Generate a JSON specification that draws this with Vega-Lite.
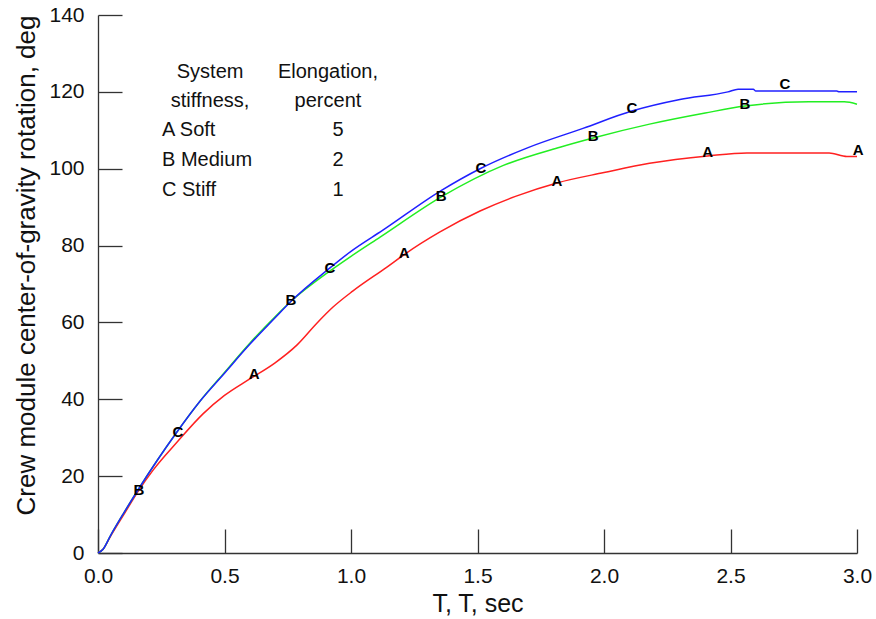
{
  "$schema": "https://vega.github.io/schema/vega-lite/v6.json",
  "width": 759,
  "height": 538,
  "autosize": {"type": "none"},
  "padding": {"left": 98, "top": 15, "right": 19, "bottom": 66},
  "background": "white",
  "config": {
    "font": "Liberation Sans",
    "view": {"stroke": null}
  },
  "datasets": {
    "curves": [
      {"t": 0, "v": 0, "s": "A"}, {"t": 0.02, "v": 1.0, "s": "A"}, {"t": 0.05, "v": 4.4, "s": "A"}, {"t": 0.1, "v": 9.8, "s": "A"}, {"t": 0.158, "v": 16.0, "s": "A"}, {"t": 0.217, "v": 21.5, "s": "A"}, {"t": 0.312, "v": 28.8, "s": "A"}, {"t": 0.415, "v": 36.2, "s": "A"}, {"t": 0.5, "v": 41.0, "s": "A"}, {"t": 0.6, "v": 45.3, "s": "A"}, {"t": 0.7, "v": 49.5, "s": "A"}, {"t": 0.786, "v": 54.1, "s": "A"}, {"t": 0.865, "v": 59.8, "s": "A"}, {"t": 0.929, "v": 64.0, "s": "A"}, {"t": 1.008, "v": 68.2, "s": "A"}, {"t": 1.142, "v": 74.4, "s": "A"}, {"t": 1.213, "v": 77.8, "s": "A"}, {"t": 1.35, "v": 83.5, "s": "A"}, {"t": 1.51, "v": 89.0, "s": "A"}, {"t": 1.65, "v": 92.8, "s": "A"}, {"t": 1.814, "v": 96.3, "s": "A"}, {"t": 2.0, "v": 99.0, "s": "A"}, {"t": 2.18, "v": 101.4, "s": "A"}, {"t": 2.41, "v": 103.3, "s": "A"}, {"t": 2.565, "v": 104.1, "s": "A"}, {"t": 2.89, "v": 104.1, "s": "A"}, {"t": 2.96, "v": 103.2, "s": "A"}, {"t": 3.0, "v": 103.2, "s": "A"},
      {"t": 0, "v": 0, "s": "B"}, {"t": 0.02, "v": 1.0, "s": "B"}, {"t": 0.05, "v": 4.6, "s": "B"}, {"t": 0.1, "v": 10.2, "s": "B"}, {"t": 0.158, "v": 16.4, "s": "B"}, {"t": 0.233, "v": 24.0, "s": "B"}, {"t": 0.312, "v": 31.5, "s": "B"}, {"t": 0.403, "v": 39.5, "s": "B"}, {"t": 0.5, "v": 47.0, "s": "B"}, {"t": 0.6, "v": 54.6, "s": "B"}, {"t": 0.7, "v": 61.5, "s": "B"}, {"t": 0.763, "v": 65.5, "s": "B"}, {"t": 0.917, "v": 73.4, "s": "B"}, {"t": 1.0, "v": 77.2, "s": "B"}, {"t": 1.115, "v": 82.2, "s": "B"}, {"t": 1.36, "v": 92.8, "s": "B"}, {"t": 1.6, "v": 100.8, "s": "B"}, {"t": 1.826, "v": 105.6, "s": "B"}, {"t": 1.957, "v": 108.0, "s": "B"}, {"t": 2.18, "v": 111.6, "s": "B"}, {"t": 2.4, "v": 114.5, "s": "B"}, {"t": 2.557, "v": 116.3, "s": "B"}, {"t": 2.81, "v": 117.4, "s": "B"}, {"t": 2.95, "v": 117.4, "s": "B"}, {"t": 3.0, "v": 116.8, "s": "B"},
      {"t": 0, "v": 0, "s": "C"}, {"t": 0.02, "v": 1.0, "s": "C"}, {"t": 0.05, "v": 4.6, "s": "C"}, {"t": 0.1, "v": 10.2, "s": "C"}, {"t": 0.158, "v": 16.4, "s": "C"}, {"t": 0.233, "v": 24.0, "s": "C"}, {"t": 0.312, "v": 31.5, "s": "C"}, {"t": 0.403, "v": 39.5, "s": "C"}, {"t": 0.5, "v": 46.8, "s": "C"}, {"t": 0.6, "v": 54.3, "s": "C"}, {"t": 0.7, "v": 61.2, "s": "C"}, {"t": 0.763, "v": 65.5, "s": "C"}, {"t": 0.917, "v": 74.2, "s": "C"}, {"t": 1.0, "v": 78.5, "s": "C"}, {"t": 1.126, "v": 84.0, "s": "C"}, {"t": 1.356, "v": 94.3, "s": "C"}, {"t": 1.51, "v": 100.0, "s": "C"}, {"t": 1.7, "v": 105.5, "s": "C"}, {"t": 1.917, "v": 110.5, "s": "C"}, {"t": 2.11, "v": 115.0, "s": "C"}, {"t": 2.3, "v": 118.0, "s": "C"}, {"t": 2.49, "v": 120.0, "s": "C"}, {"t": 2.53, "v": 120.7, "s": "C"}, {"t": 2.59, "v": 120.7, "s": "C"}, {"t": 2.6, "v": 120.2, "s": "C"}, {"t": 2.92, "v": 120.2, "s": "C"}, {"t": 2.93, "v": 120.0, "s": "C"}, {"t": 3.0, "v": 120.0, "s": "C"}
    ],
    "letters": [
      {"t": 0.617, "v": 46.6, "s": "A"}, {"t": 1.21, "v": 78.1, "s": "A"}, {"t": 1.814, "v": 96.8, "s": "A"}, {"t": 2.41, "v": 104.3, "s": "A"}, {"t": 3.005, "v": 104.9, "s": "A"},
      {"t": 0.162, "v": 16.4, "s": "B"}, {"t": 0.763, "v": 65.8, "s": "B"}, {"t": 1.356, "v": 92.9, "s": "B"}, {"t": 1.957, "v": 108.5, "s": "B"}, {"t": 2.557, "v": 116.8, "s": "B"},
      {"t": 0.316, "v": 31.5, "s": "C"}, {"t": 0.917, "v": 74.2, "s": "C"}, {"t": 1.514, "v": 100.2, "s": "C"}, {"t": 2.11, "v": 115.8, "s": "C"}, {"t": 2.715, "v": 122.0, "s": "C"}
    ],
    "tableCenter": [
      {"t": 0.443, "v": 125.2, "label": "System"},
      {"t": 0.443, "v": 117.6, "label": "stiffness,"},
      {"t": 0.909, "v": 125.2, "label": "Elongation,"},
      {"t": 0.909, "v": 117.6, "label": "percent"},
      {"t": 0.949, "v": 110.1, "label": "5"},
      {"t": 0.949, "v": 102.3, "label": "2"},
      {"t": 0.949, "v": 94.5, "label": "1"}
    ],
    "tableLeft": [
      {"t": 0.253, "v": 110.1, "label": "A Soft"},
      {"t": 0.253, "v": 102.3, "label": "B Medium"},
      {"t": 0.253, "v": 94.5, "label": "C Stiff"}
    ]
  },
  "layer": [
    {
      "data": {"name": "curves"},
      "mark": {"type": "line", "strokeWidth": 1.5, "interpolate": "monotone"},
      "encoding": {
        "x": {"field": "t", "type": "quantitative", "scale": {"domain": [0, 3], "nice": false}, "axis": {"values": [0, 0.5, 1, 1.5, 2, 2.5, 3], "format": ".1f", "grid": false, "labelFlush": false, "labelOverlap": false, "tickSize": -24, "tickWidth": 1.3, "tickColor": "#333", "domainColor": "#333", "domainWidth": 1.3, "labelFont": "Liberation Sans", "labelFontSize": 21, "labelColor": "#111", "labelPadding": 36, "title": "T, T, sec", "titleFont": "Liberation Sans", "titleFontSize": 25, "titleFontWeight": "normal", "titleColor": "#111", "titlePadding": 5}},
        "y": {"field": "v", "type": "quantitative", "scale": {"domain": [0, 140], "nice": false}, "axis": {"values": [0, 20, 40, 60, 80, 100, 120, 140], "grid": false, "labelFlush": false, "labelOverlap": false, "tickSize": -24, "tickWidth": 1.3, "tickColor": "#333", "domainColor": "#333", "domainWidth": 1.3, "labelFont": "Liberation Sans", "labelFontSize": 21, "labelColor": "#111", "labelPadding": 38, "title": "Crew module center-of-gravity rotation, deg", "titleFont": "Liberation Sans", "titleFontSize": 26, "titleFontWeight": "normal", "titleColor": "#111", "titlePadding": 9, "titleY": 250}},
        "color": {"field": "s", "type": "nominal", "scale": {"domain": ["A", "B", "C"], "range": ["#ff2020", "#22ee22", "#2020ff"]}, "legend": null}
      }
    },
    {
      "data": {"name": "letters"},
      "mark": {"type": "text", "font": "Liberation Sans", "fontWeight": "bold", "fontSize": 15, "color": "black", "align": "center", "baseline": "middle"},
      "encoding": {
        "x": {"field": "t", "type": "quantitative"},
        "y": {"field": "v", "type": "quantitative"},
        "text": {"field": "s"}
      }
    },
    {
      "data": {"name": "tableCenter"},
      "mark": {"type": "text", "font": "Liberation Sans", "fontSize": 20, "color": "#111", "align": "center", "baseline": "middle"},
      "encoding": {
        "x": {"field": "t", "type": "quantitative"},
        "y": {"field": "v", "type": "quantitative"},
        "text": {"field": "label"}
      }
    },
    {
      "data": {"name": "tableLeft"},
      "mark": {"type": "text", "font": "Liberation Sans", "fontSize": 20, "color": "#111", "align": "left", "baseline": "middle"},
      "encoding": {
        "x": {"field": "t", "type": "quantitative"},
        "y": {"field": "v", "type": "quantitative"},
        "text": {"field": "label"}
      }
    }
  ]
}
